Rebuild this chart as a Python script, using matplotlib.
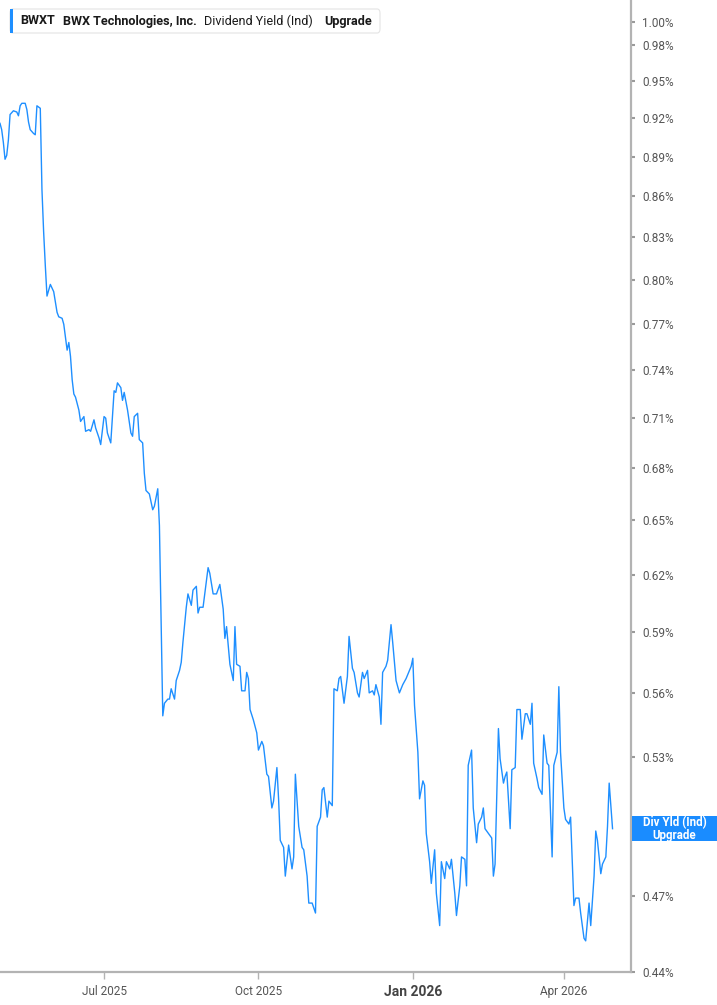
import matplotlib
matplotlib.use('Agg')
import matplotlib.pyplot as plt
import matplotlib.dates as mdates
from matplotlib.patches import Rectangle, FancyBboxPatch
from matplotlib.ticker import FixedLocator, FuncFormatter, NullLocator
import pandas as pd

# ---------------- data ----------------
start_date = '2025-04-30'
day_offsets = [0, 1, 2, 3, 4, 5, 6, 8, 10, 11, 12, 13, 15, 16, 17, 18, 20, 21, 22, 24,
               25, 26, 27, 28, 30, 32, 34, 35, 37,
               38, 40, 41, 42, 43, 44, 45, 47, 48, 50, 51, 53, 54, 56, 57, 59, 60, 62, 63, 64,
               66, 67, 68, 69, 70, 72, 73, 74, 76, 78, 79, 80, 82, 83, 85, 86, 87, 89, 91, 92,
               94, 95, 97, 98, 100, 101, 102, 104, 105, 107, 108, 109, 111, 112, 114, 115, 117,
               118, 119, 121, 123, 124, 125, 127, 129, 131, 133, 134, 135, 137, 139, 140, 141,
               143, 144, 146, 147, 148,
               149, 151, 153, 154, 156, 157, 159, 160, 162, 163, 165, 166, 167, 169, 170, 172,
               174, 175, 176, 178, 180, 181, 183, 184, 186, 188, 189, 191, 192, 193, 195, 196,
               198, 199, 201, 202, 203, 205, 207, 208, 210, 211, 213, 214, 216, 217, 219, 220,
               222, 223, 224, 226, 227, 228, 230, 231, 233, 234, 236, 238, 239, 240, 242, 243,
               245, 246, 247, 249, 250, 252, 253, 254, 256, 257, 259, 260, 262, 263, 265, 266,
               268, 269, 271, 272, 274, 275, 277, 278, 279, 281, 282, 284, 285, 287, 288, 289,
               291, 293, 294, 295, 297, 298, 300, 301, 302, 304, 305, 307, 308, 310, 311, 313,
               314, 316, 317, 318, 320, 321, 323, 324, 326, 327, 329, 330, 332, 333, 334, 336,
               337, 339, 340, 342, 343, 345, 346, 348, 349, 351, 352, 354, 355, 356, 358, 359,
               361, 362, 363, 365]
yield_pct = [0.916, 0.911, 0.901, 0.888, 0.891, 0.903, 0.923, 0.926, 0.925, 0.922, 0.930, 0.932,
             0.932, 0.927, 0.917, 0.911, 0.908, 0.907, 0.930, 0.928,
             0.865, 0.834, 0.810, 0.789, 0.797, 0.792, 0.778, 0.775, 0.774,
             0.770, 0.753, 0.758, 0.749, 0.734, 0.725, 0.723, 0.715, 0.708, 0.711, 0.702, 0.703,
             0.702, 0.709, 0.704, 0.698, 0.694, 0.711, 0.710, 0.701,
             0.695, 0.711, 0.727, 0.726, 0.732, 0.729, 0.721, 0.726, 0.715, 0.701, 0.699, 0.711,
             0.713, 0.697, 0.695, 0.677, 0.667, 0.665, 0.656, 0.658,
             0.668, 0.647, 0.549, 0.555, 0.557, 0.557, 0.562, 0.557, 0.566, 0.571, 0.575, 0.585,
             0.603, 0.610, 0.604, 0.612, 0.614,
             0.600, 0.603, 0.603, 0.617, 0.624, 0.621, 0.610, 0.610, 0.615, 0.602, 0.587, 0.593,
             0.574, 0.566, 0.593, 0.574,
             0.573, 0.561, 0.561, 0.570, 0.567,
             0.552, 0.547, 0.541, 0.533, 0.537, 0.535, 0.522, 0.521, 0.507, 0.510, 0.525, 0.511,
             0.493, 0.490, 0.478, 0.491,
             0.481, 0.486, 0.522, 0.499, 0.490, 0.489, 0.478, 0.467, 0.467, 0.463, 0.499, 0.503,
             0.515, 0.516, 0.503, 0.510,
             0.508, 0.562, 0.561, 0.567, 0.568, 0.555, 0.568, 0.588, 0.572, 0.570, 0.560, 0.558,
             0.570, 0.567, 0.571, 0.560,
             0.561, 0.559, 0.564, 0.558, 0.545, 0.570, 0.573, 0.576, 0.594, 0.585, 0.566, 0.560,
             0.562, 0.564, 0.567, 0.569,
             0.573, 0.577, 0.554, 0.532, 0.511, 0.519, 0.517, 0.496, 0.484, 0.475, 0.489, 0.471,
             0.458, 0.484, 0.477, 0.484,
             0.481, 0.485, 0.471, 0.462, 0.474, 0.486, 0.485, 0.474, 0.526, 0.533, 0.507, 0.492,
             0.500, 0.503, 0.507, 0.498,
             0.496, 0.494, 0.478, 0.483, 0.543, 0.529, 0.518, 0.521, 0.523, 0.498, 0.524, 0.525,
             0.552, 0.552, 0.538, 0.550,
             0.550, 0.545, 0.555, 0.527, 0.520, 0.516, 0.513, 0.540, 0.527, 0.526, 0.486, 0.526,
             0.532, 0.563, 0.532, 0.507,
             0.502, 0.500, 0.503, 0.466, 0.469, 0.469, 0.463, 0.453, 0.452, 0.467, 0.458, 0.478,
             0.497, 0.493, 0.479, 0.483,
             0.486, 0.499, 0.518, 0.498]
# 0.50% sits under the end-value label in the reference, so it is not shown
ytick_values = [1.00, 0.98, 0.95, 0.92, 0.89, 0.86, 0.83, 0.80, 0.77, 0.74, 0.71, 0.68,
                0.65, 0.62, 0.59, 0.56, 0.53, 0.47, 0.44]
xtick_dates = ['2025-07-01', '2025-10-01', '2026-01-01', '2026-04-01']
xtick_labels = ['Jul 2025', 'Oct 2025', 'Jan 2026', 'Apr 2026']
ticker_symbol = 'BWXT'
company_name = 'BWX Technologies, Inc.'
metric_name = 'Dividend Yield (Ind)'
upgrade_text = 'Upgrade'
end_label = 'Div Yld (Ind)\nUpgrade'

# ---------------- figure ----------------
W, H = 717, 1005
LINE_BLUE = '#1e8fff'
plt.rcParams['font.family'] = ['Roboto', 'DejaVu Sans']

fig = plt.figure(figsize=(W / 100, H / 100), dpi=100)
fig.patch.set_facecolor('white')
ax = fig.add_axes([0, 1 - 972 / H, 631 / W, 972 / H])

t0 = pd.Timestamp(start_date)
dates = [(t0 + pd.Timedelta(days=d)).to_pydatetime() for d in day_offsets]
ax.plot(dates, yield_pct, color=LINE_BLUE, lw=1.0, solid_joinstyle='round')

ax.set_yscale('log')
ax.set_ylim(0.44, 1.019)
ax.set_xlim(t0.to_pydatetime(), (t0 + pd.Timedelta(days=376)).to_pydatetime())

ax.yaxis.tick_right()
ax.yaxis.set_major_locator(FixedLocator(ytick_values))
ax.yaxis.set_minor_locator(NullLocator())
ax.yaxis.set_major_formatter(FuncFormatter(lambda v, p: f'{v:.2f}%'))

xt = [pd.Timestamp(d).to_pydatetime() for d in xtick_dates]
ax.set_xticks(xt)
ax.set_xticklabels(xtick_labels)
ax.xaxis.set_minor_locator(NullLocator())

for s in ['top', 'left']:
    ax.spines[s].set_visible(False)
for s in ['right', 'bottom']:
    ax.spines[s].set_color('#b3b3b3')
    ax.spines[s].set_linewidth(1.6)

ax.tick_params(axis='y', which='major', direction='out', length=3, width=1.5,
               color='#9a9a9a', labelsize=8.5, labelcolor='#555555', pad=5)
ax.tick_params(axis='x', which='major', direction='out', length=5, width=1.0,
               color='#b3b3b3', labelsize=8.5, labelcolor='#555555', pad=4)
for lbl in ax.get_xticklabels():
    if lbl.get_text().startswith('Jan'):
        lbl.set_fontweight('bold')
        lbl.set_fontsize(10)
        lbl.set_color('#444444')

ax.set_facecolor('white')

# ---------------- header box ----------------
def fx(px):
    return px / W

def fy(py):
    return 1 - py / H

hdr = FancyBboxPatch((fx(10), fy(33)), fx(380) - fx(10), (33 - 9) / H,
                     boxstyle='round,pad=0,rounding_size=0.004',
                     transform=fig.transFigure, fc='white', ec='#e4e4e4', lw=0.8, zorder=5)
fig.patches.append(hdr)
fig.patches.append(Rectangle((fx(10), fy(33)), 3 / W, 24 / H, transform=fig.transFigure,
                             fc=LINE_BLUE, ec='none', zorder=6))
hy = fy(21)
fs_hdr = 9.1
fig.text(fx(20), hy, ticker_symbol, fontsize=fs_hdr, fontweight='bold', color='#1a1a1a',
         va='center', ha='left', zorder=7)
fig.text(fx(63), hy, company_name, fontsize=fs_hdr, fontweight='bold', color='#1a1a1a',
         va='center', ha='left', zorder=7)
fig.text(fx(204), hy, metric_name, fontsize=fs_hdr, color='#1a1a1a',
         va='center', ha='left', zorder=7)
fig.text(fx(324), hy, upgrade_text, fontsize=fs_hdr, fontweight='bold', color='#1a1a1a',
         va='center', ha='left', zorder=7)

# ---------------- end-value label ----------------
last_disp = ax.transData.transform((mdates.date2num(dates[-1]), yield_pct[-1]))
last_fig = fig.transFigure.inverted().transform(last_disp)
box_h = 25 / H
fig.patches.append(Rectangle((fx(632), last_fig[1] - box_h / 2), fx(717) - fx(632), box_h,
                             transform=fig.transFigure, fc='#1a8cff', ec='none', zorder=8))
fig.text(fx(674.5), last_fig[1], end_label, fontsize=8.3, fontweight='bold', color='white',
         ha='center', va='center', linespacing=0.95, zorder=9)

fig.savefig('out.png', dpi=100, facecolor='white')
